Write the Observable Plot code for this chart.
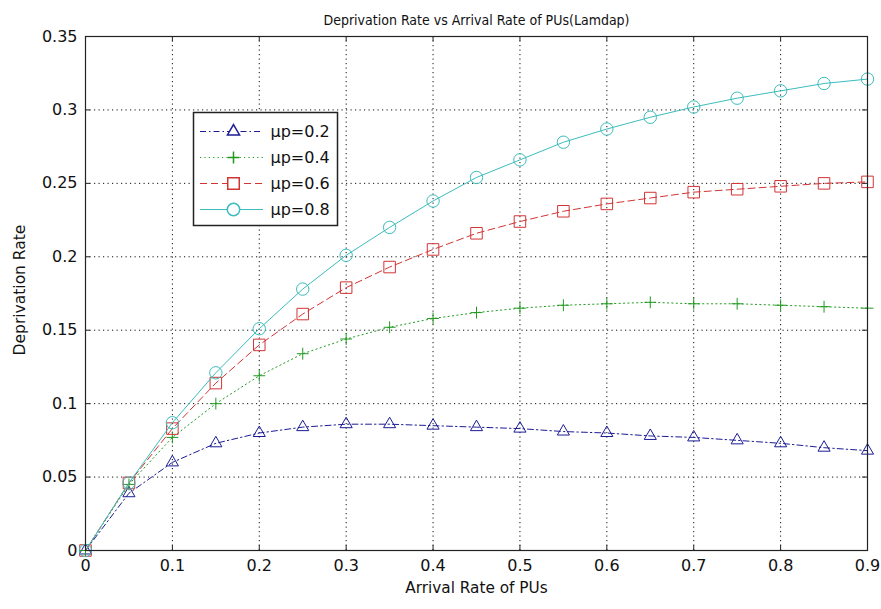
<!DOCTYPE html>
<html><head><meta charset="utf-8">
<script src="https://cdn.jsdelivr.net/npm/d3@7"></script>
<script src="https://cdn.jsdelivr.net/npm/@observablehq/plot@0.6"></script>
<style>
body{margin:0;background:#fff}
#wrap{position:relative;width:881px;height:609px;background:#fff}
#legend{position:absolute;left:193px;top:112px}
#ylabel{position:absolute;left:21px;top:290px;transform:translate(-50%,-50%) rotate(-90deg);white-space:nowrap;font-family:"DejaVu Sans";font-size:15.5px;color:#111;line-height:1}
#legend svg, #chart svg{display:block}
</style>
</head><body><div id="wrap"><div id="chart"></div><div id="legend"></div><div id="ylabel"></div></div>
<script>
const arrivalRate = [0,0.05,0.1,0.15,0.2,0.25,0.3,0.35,0.4,0.45,0.5,0.55,0.6,0.65,0.7,0.75,0.8,0.85,0.9];
const up02 = [0,0.039,0.060,0.073,0.080,0.084,0.086,0.086,0.085,0.084,0.083,0.081,0.080,0.078,0.077,0.075,0.073,0.070,0.068];
const up04 = [0,0.045,0.077,0.100,0.119,0.134,0.144,0.152,0.158,0.162,0.165,0.167,0.168,0.169,0.168,0.168,0.167,0.166,0.165];
const up06 = [0,0.046,0.083,0.114,0.140,0.161,0.179,0.193,0.205,0.216,0.224,0.231,0.236,0.240,0.244,0.246,0.248,0.250,0.251];
const up08 = [0,0.046,0.087,0.121,0.151,0.178,0.201,0.220,0.238,0.254,0.266,0.278,0.287,0.295,0.302,0.308,0.313,0.318,0.321];
const seriesNames = ["μp=0.2","μp=0.4","μp=0.6","μp=0.8"];
const xTicks = [0,0.1,0.2,0.3,0.4,0.5,0.6,0.7,0.8,0.9];
const xTickLabels = ["0","0.1","0.2","0.3","0.4","0.5","0.6","0.7","0.8","0.9"];
const yTicks = [0,0.05,0.1,0.15,0.2,0.25,0.3,0.35];
const yTickLabels = ["0","0.05","0.1","0.15","0.2","0.25","0.3","0.35"];
const titleText = "Deprivation Rate vs Arrival Rate of PUs(Lamdap)";
const xLabel = "Arrival Rate of PUs";
const yLabel = "Deprivation Rate";

const seriesValues = [up02, up04, up06, up08];
const styles = [
  {stroke:"#1c1c96", dash:"6,3,1.5,3", symbol:"triangle", r:4.5},
  {stroke:"#1f9a1f", dash:"1.2,3.2", symbol:"plus", r:3.9},
  {stroke:"#d23434", dash:"7,4", symbol:"square", r:6.5},
  {stroke:"#3cbcbc", dash:null, symbol:"circle", r:6.2}
];
const series = seriesNames.map((name, i) => ({
  name, style: styles[i],
  rows: arrivalRate.map((x, j) => ({x, y: seriesValues[i][j]}))
}));

const W = 881, H = 609, mL = 85, mR = 14, mT = 36, mB = 59;
const iW = W - mL - mR, iH = H - mT - mB;

const marks = [
  Plot.ruleX(xTicks, {stroke:"#111", strokeDasharray:"1.2,3.3"}),
  Plot.ruleY(yTicks, {stroke:"#111", strokeDasharray:"1.2,3.3"}),
  Plot.ruleX(xTicks, {stroke:"#222", insetTop: iH - 5}),
  Plot.ruleX(xTicks, {stroke:"#222", insetBottom: iH - 5}),
  Plot.ruleY(yTicks, {stroke:"#222", insetRight: iW - 5}),
  Plot.ruleY(yTicks, {stroke:"#222", insetLeft: iW - 5}),
];
for (const s of series) {
  marks.push(Plot.line(s.rows, {x:"x", y:"y", stroke: s.style.stroke, strokeWidth: 1, strokeDasharray: s.style.dash || undefined}));
  marks.push(Plot.dot(s.rows, {x:"x", y:"y", stroke: s.style.stroke, fill: "none", symbol: s.style.symbol, r: s.style.r, strokeWidth: 1}));
}
marks.push(
  Plot.frame({stroke:"#222", strokeWidth: 1.2}),
  Plot.axisX({ticks: xTicks, tickSize: 0, tickPadding: 9, tickFormat: d => xTickLabels[xTicks.indexOf(d)], fontSize: 16, label: null}),
  Plot.axisY({ticks: yTicks, tickSize: 0, tickPadding: 8, tickFormat: d => yTickLabels[yTicks.indexOf(d)], fontSize: 16, label: null}),
  Plot.text([titleText], {frameAnchor:"top", dy:-21, fontSize: 14, fontFamily: "DejaVu Sans Condensed, DejaVu Sans"}),
  Plot.text([xLabel], {frameAnchor:"bottom", dy:42, fontSize: 15.3})
);

const chart = Plot.plot({
  width: W, height: H,
  marginLeft: mL, marginRight: mR, marginTop: mT, marginBottom: mB,
  x: {domain:[0,0.9]},
  y: {domain:[0,0.35]},
  style: {fontFamily: "DejaVu Sans", fontSize: "14px", background: "#fff", color: "#111", overflow: "visible"},
  marks
});
document.getElementById("chart").appendChild(chart);
document.getElementById("ylabel").textContent = yLabel;

// legend
const legendMarks = [];
series.forEach((s) => {
  const d = [s.name];
  legendMarks.push(Plot.ruleY(d, {y: v => v, stroke: s.style.stroke, strokeDasharray: s.style.dash || undefined, insetLeft: 7, insetRight: 74}));
  legendMarks.push(Plot.dot(d, {y: v => v, frameAnchor: "left", dx: 40, stroke: s.style.stroke, fill: "#fff", symbol: s.style.symbol, r: s.style.r}));
  legendMarks.push(Plot.text(d, {y: v => v, text: v => v, frameAnchor: "left", dx: 77, textAnchor: "start", fontSize: 16, fill: "#111"}));
});
legendMarks.push(Plot.frame({stroke:"#222", strokeWidth: 1.5}));
const legend = Plot.plot({
  width: 144, height: 113,
  marginLeft: 0, marginRight: 0, marginTop: 0, marginBottom: 0,
  y: {type: "point", domain: seriesNames, padding: 0, insetTop: 18, insetBottom: 15, axis: null},
  style: {fontFamily: "DejaVu Sans", background: "#fff", overflow: "visible"},
  marks: legendMarks
});
document.getElementById("legend").appendChild(legend);
</script>
</body></html>
